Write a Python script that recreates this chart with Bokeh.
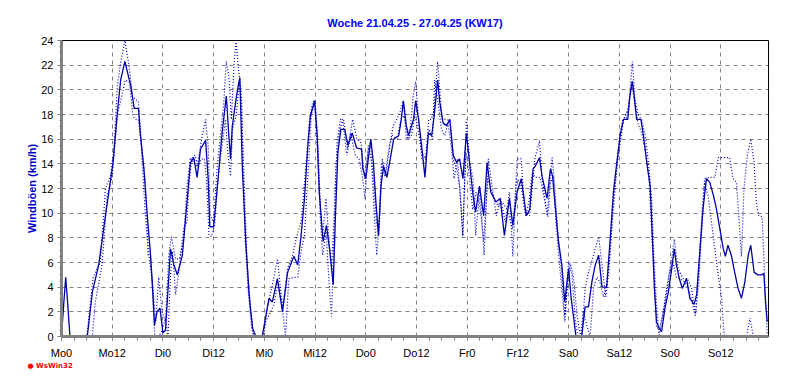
from bokeh.plotting import figure
from bokeh.models import Range1d, FixedTicker, Title
from bokeh.embed import file_html
from bokeh.resources import INLINE

title_text = "Woche 21.04.25 - 27.04.25 (KW17)"
y_label = "Windböen (km/h)"
logo_text = "● WsWin32"
x_tick_pos = [0, 12, 24, 36, 48, 60, 72, 84, 96, 108, 120, 132, 144, 156]
x_tick_labels = ["Mo0", "Mo12", "Di0", "Di12", "Mi0", "Mi12", "Do0", "Do12",
                 "Fr0", "Fr12", "Sa0", "Sa12", "So0", "So12"]
y_ticks = [0, 2, 4, 6, 8, 10, 12, 14, 16, 18, 20, 22, 24]

# solid series (hours since Mo 0:00, km/h)
solid_h = [0, 0.5, 1, 1.5, 2, 6.1, 7.3, 8.8, 10.4, 12.2, 13.2, 14, 15, 16.4, 17.2, 18.2, 18.7, 19.5,
           20.3, 21, 21.5, 22, 22.6, 23.3, 24, 24.6, 25.8, 26.6, 27.4, 28.6, 29.7, 30.5, 31.3, 32.1,
           32.9, 34.1, 34.7, 35.1, 36, 36.9, 38, 39, 39.6, 40, 40.4, 41.2, 41.8, 42.2, 42.8, 43.6,
           44.4, 45.2, 46, 47.5, 49.1, 49.9, 51.1, 52.3, 53.5, 55, 55.9, 56.7, 57.5, 58.3, 58.9,
           59.9, 60.5, 61, 61.9, 62.7, 63.5, 64.3, 64.8, 65.4, 66.1, 67, 67.8, 68.8, 69.8, 71,
           71.3, 72, 72.6, 73.2, 73.8, 74.4, 75, 75.6, 76.2, 77, 77.8, 78.6, 79.8, 80.4, 80.9,
           81.6, 82.1, 83.3, 83.8, 84.5, 85.2, 86, 86.8, 87.6, 88.2, 89, 89.5, 90.3, 91.1, 91.9,
           92.7, 93.5, 94.2, 95, 95.8, 96.8, 97.4, 98, 98.9, 99.9, 100.7, 101.6, 102.8, 103.8,
           104.8, 106, 106.8, 107.8, 108.8, 110, 110.8, 111.6, 112.1, 113.1, 113.7, 114.9, 115.7,
           116.2, 116.9, 117.6, 118.4, 119.1, 119.6, 120, 120.6, 121.2, 121.7, 122.4, 123.1,
           123.9, 124.7, 125.5, 126.3, 127.1, 127.9, 129, 129.8, 130.6, 131.4, 132.2, 133, 134,
           134.5, 135.1, 135.6, 136.1, 137.1, 137.7, 138.5, 139.3, 139.8, 140.3, 140.8, 141.4,
           142, 142.8, 143.6, 144.4, 145, 145.5, 146.2, 146.9, 147.9, 148.7, 149.7, 150.3, 151.1,
           151.8, 152.6, 153.4, 154.3, 155, 155.8, 156.6, 157.1, 157.7, 158.5, 159.3, 160.1,
           160.9, 161.7, 162.5, 163.1, 163.9, 164.8, 165.6, 166.2, 166.6, 167]
solid_v = [0, 2.5, 4.8, 2.5, 0, 0, 3.6, 5.8, 9.8, 14.1, 18.1, 20.8, 22.3, 20.3, 18.5, 18.5, 16.3, 13.6,
           9.8, 6.9, 4.3, 0.9, 2, 2.3, 0.3, 0.5, 7.1, 5.8, 5.0, 6.6, 10.9, 14.1, 14.5, 12.9,
           15.2, 15.9, 12.8, 8.9, 8.9, 12.2, 16.5, 19.5, 16.3, 14.4, 17, 19, 20.3, 21, 13.6, 7.7,
           3.4, 0.7, 0, 0, 3.1, 2.8, 4.7, 2, 5.2, 6.5, 5.8, 8.2, 11.2, 15.5, 17.9,
           19.1, 16.3, 11.7, 7.7, 9.0, 6.9, 4.2, 9.5, 14.9, 16.8, 16.8, 15.5, 16.5, 15.3, 15.2,
           13.6, 12.8, 14.4, 16, 14.1, 10.9, 8.2, 12.2, 13.8, 12.9, 14.4, 16, 16.3, 17.6, 19.1,
           17.1, 16.3, 17.6, 19.1, 17.6, 15.5, 12.9, 16.5, 16.3, 17.9, 20.8, 19, 17.3, 17.1, 17.6,
           14.7, 14.1, 14.4, 12.8, 16.5, 13.3, 11.4, 10.1, 12.2, 9.8, 14.1, 11.7, 10.9, 11.2,
           8.2, 11.2, 9, 11.7, 12.8, 9.8, 10.3, 13.6, 13.8, 14.5, 13, 11.2, 13.6,
           13, 10.3, 7.7, 5.8, 2.8, 4.4, 5.5, 3.1, 1.5, 0.1, 0, 0,
           2.4, 2.4, 4.4, 5.8, 6.6, 4, 4, 7.7, 11.7, 14.1, 16.3, 17.6, 17.6,
           19.5, 20.7, 19.2, 17.6, 17.6, 16.3, 14.1, 12.2, 8.2, 3.9, 1.2, 0.7,
           0.4, 2.3, 3.6, 5.5, 7.1, 5.8, 4.7, 3.9, 4.7, 3.1, 2.6, 3.4, 7.1,
           10.3, 12.8, 12.5, 11.4, 10.3, 8.7, 7.1, 6.5, 7.4, 6.6, 5.2, 3.9,
           3.1, 4.4, 6.6, 7.4, 5.2, 5.0, 5.0, 5.1, 2.8, 1.2]

# dotted series A
dotA_h = [0, 6, 7.5, 8.4, 9.2, 10.4, 11.6, 12.4, 13.2, 14, 15, 16, 16.8, 17.5, 18.2, 18.7, 19.3, 19.9,
          20.7, 21.5, 22.3, 23, 23.8, 24.6, 25.4, 26, 27, 27.9, 28.9, 29.7, 30.5, 31.3, 32.1, 33.3,
          34.1, 34.7, 35.2, 36, 36.8, 37.6, 38.4, 39, 39.6, 40.2, 40.8, 41.3, 41.9, 42.5, 43.1,
          43.9, 44.7, 45.5, 47.8, 48.7, 49.9, 51.1, 52.3, 53.5, 54.7, 55.5, 56.7, 57.9, 58.7,
          59.4, 60, 60.6, 61.3, 61.8, 62.6, 63.2, 63.9, 64.6, 65.2, 66, 66.8, 67.7, 68.9, 69.9,
          70.9, 71.7, 72.5, 73.1, 73.9, 74.5, 75.1, 75.9, 76.7, 77.7, 78.5, 79.3, 80, 80.9, 81.6,
          82.4, 83.2, 83.8, 84.5, 85.3, 86.1, 86.9, 87.5, 88.2, 89, 89.5, 90.1, 91.1, 91.9, 92.7,
          93.5, 94.2, 95, 95.8, 96.6, 97.4, 98, 99, 100, 101, 102.1, 102.9, 103.9, 105, 106,
          106.8, 107.8, 108.8, 109.6, 110.8, 112, 113.1, 113.7, 114.9, 115.7, 116.1, 116.7,
          117.5, 118.3, 119.1, 120, 120.8, 121.6, 122.2, 123.1, 123.9, 124.7, 125.9, 127.1,
          127.9, 128.8, 129.6, 130.4, 131.2, 132, 132.8, 133.6, 134.3, 135.1, 135.7, 136.5,
          137.3, 138.1, 138.9, 139.7, 140.3, 140.8, 141.4, 142, 143, 143.7, 144.4, 145, 145.9,
          147.1, 148.1, 149.1, 150, 150.8, 151.6, 152.2, 153.4, 154.6, 155.4, 158.1, 158.9,
          159.7, 160.2, 160.9, 161.5, 162.3, 163.1, 163.9, 164.4, 165, 165.8, 166.4, 167]
dotA_v = [0, 0, 4.8, 5.5, 6, 12, 13, 15.2, 20.3, 22.2, 24, 21.9, 19.5, 19.2, 19.1, 16.5, 13, 9.5,
          6.5, 4.4, 1.2, 4.8, 2.0, 1.2, 6.6, 8.1, 6.3, 6.3, 7.9, 12.2, 14.5, 14.1, 13.8, 16.3,
          17.6, 15.5, 9.8, 9.3, 13.6, 16.3, 19, 22.3, 21.1, 17.6, 21.9, 24, 21.6, 20, 13.6,
          6, 2.3, 0, 0, 2.3, 4.2, 6.3, 2.3, 5.5, 6.6, 7.9, 9.3, 14.1, 17.6,
          19, 19.2, 16.3, 10.1, 8.2, 11.2, 8.2, 5.5, 10.3, 15.7, 17.6, 17.5, 15.2, 17.6, 16,
          15.7, 12.8, 14.9, 15.7, 12.2, 9.3, 8.2, 14.4, 13, 15.5, 17.1, 17.6, 18.1, 19.1, 16,
          16.3, 19.5, 20.7, 17.6, 14.4, 14.1, 17.6, 17.6, 18.4, 22.3, 20, 17.6, 17.6, 17.5, 14.4,
          13.6, 12.2, 8.2, 17.6, 14.1, 12.8, 8.2, 12, 6.6, 14.4, 11.7, 9.8, 11.2, 9.3, 11.7,
          6.5, 14.4, 14.4, 10.1, 9.8, 14.4, 15.9, 13, 9.8, 13, 14.5, 12.2,
          8.2, 5.5, 1.7, 6, 5, 1.2, 0, 0, 3.9, 5.2, 6.6, 8.1,
          5.8, 3.2, 5.5, 10.3, 13, 16, 17.6, 17.6, 19, 22.3, 19.2, 17.9,
          17.6, 16.3, 14.1, 10.9, 5.5, 2.6, 0, 1.2, 3.1, 4.7, 6.3, 7.9, 5.5,
          4.7, 4.7, 3.9, 1.7, 5.5, 10.3, 12.8, 12.9, 12.9, 14.5, 14.5, 12.8,
          12.5, 10.1, 6.5, 12, 14.7, 16, 14.1, 10.9, 9.8, 9.7, 4.7, 0.1]

# dotted series B
dotB_h = [0, 7.3, 8, 9.6, 10.8, 12, 13.2, 14.3, 15.1, 16.1, 16.9, 17.5, 18.2, 19.1, 19.9, 20.5, 21.1,
          21.5, 22.1, 23, 23.8, 24.6, 25.2, 25.8, 26.3, 27, 27.7, 28.9, 29.7, 30.1, 30.8, 31.6,
          32.2, 33.1, 33.8, 34.3, 34.9, 35.5, 36.2, 37.1, 38, 38.8, 39.4, 40, 40.5, 41.3, 42.1,
          42.6, 43.4, 44.2, 45, 45.5, 47.6, 48.3, 49.1, 50.3, 51.1, 52.1, 53, 53.8, 55, 55.9,
          56.7, 57.5, 58.3, 59.1, 59.9, 60.6, 61.3, 61.8, 62.6, 63.4, 63.9, 64.4, 64.9, 65.7,
          66.5, 67.5, 68.4, 69.5, 70.4, 71.2, 71.8, 72.6, 73.4, 74, 74.6, 75.2, 75.7, 76.5,
          77.6, 78.3, 79.5, 80.3, 81.1, 82.1, 82.8, 83.6, 84.4, 85.2, 86.2, 87, 87.8, 88.3,
          89.1, 89.9, 90.7, 91.5, 92.3, 92.9, 93.7, 94.5, 94.9, 95.7, 96.5, 97.3, 98.1, 98.9,
          99.9, 100.8, 101.6, 102.4, 103.3, 104.3, 105.5, 106.7, 107.7, 108.6, 109.8, 110.6,
          111.4, 112.1, 113.3, 114.1, 115.1, 115.7, 116.4, 117, 117.8, 118.6, 119.1, 119.6,
          120.4, 121.2, 122, 122.8, 123.5, 124.3, 125.1, 125.9, 126.7, 127.4, 128.3, 129,
          129.8, 130.6, 131.4, 132.2, 133, 134.1, 134.9, 135.6, 136.4, 137.3, 138.1, 139,
          139.7, 140.3, 140.8, 141.6, 142.4, 143.2, 144, 144.7, 145.5, 146.3, 147.5, 148.3,
          149.2, 150, 150.8, 151.6, 152.2, 153, 153.8, 154.6, 155.4, 156.2, 156.8, 157.4,
          162.1, 162.9, 163.7, 167]
dotB_v = [0, 0, 2.8, 5.8, 11.4, 13, 17.9, 19.6, 20.8, 20.6, 17.9, 17.6, 17.6, 14.9, 12.2, 6.6, 6.5,
          3.9, 0, 0, 0.5, 1.5, 0, 5, 6.9, 3.4, 5, 8.7, 9.3, 12, 14.4, 14.7,
          13.8, 14.4, 14.4, 12.8, 8.2, 8.1, 9, 13, 15.5, 17.6, 14.7, 13, 16.8, 17.9, 20.6,
          19, 8.2, 3.6, 0.7, 0, 0, 1.2, 1.7, 2.6, 4.2, 2.8, 0, 4.7, 4.8, 4.8,
          6.9, 8.2, 13, 17.9, 19, 14.9, 9.3, 6.6, 8.5, 3.9, 1.6, 7.1, 13.6, 16.5,
          17.6, 14.7, 16.5, 14.7, 14.4, 13, 11.2, 15.5, 14.1, 9.8, 6.6, 9.3, 14.1, 13,
          15.5, 16.3, 16, 17.6, 17.9, 16, 16.3, 17.9, 16.8, 14.9, 14.4, 16.8, 16, 20.8,
          19, 16.8, 16.3, 17.3, 15.2, 12.8, 14.4, 10.9, 8.1, 14.9, 13, 10.3, 11.7, 10.9,
          7.7, 12.8, 12, 11.2, 10.6, 10.9, 10.3, 8.7, 12.8, 12.5, 9.8, 10.9,
          13.3, 12.9, 12.9, 11.4, 9.7, 12.5, 13, 9.3, 6, 3.1, 1.2, 3.6,
          6, 4.7, 1.7, 0, 2, 0.9, 0, 3.9, 4.8, 4.4, 3.2, 4.2,
          6.9, 10.3, 13.6, 15.7, 17.6, 18.4, 20.6, 19, 17.3, 16.5, 15.2, 12.8,
          8.2, 4.4, 0.7, 0.7, 2, 3.9, 5.5, 6, 4.8, 4.7, 4.4, 3.9,
          2.8, 1.7, 4.4, 9.3, 12.5, 11.4, 9.3, 7.1, 5, 3.1, 0.1, 0,
          0, 1.5, 0, 0]

W, H = 776, 372
p = figure(width=W, height=H, output_backend="svg", toolbar_location=None,
           x_range=Range1d(0, 167.3), y_range=Range1d(0, 24),
           min_border_left=61, min_border_right=8, min_border_top=40, min_border_bottom=36)
p.title.text = title_text
p.title.align = "center"
p.title.text_font = "Liberation Sans"
p.title.text_font_size = "11px"
p.title.text_font_style = "bold"
p.title.text_color = "#0000FF"
p.title.offset = 0
p.title.standoff = 24

p.background_fill_color = "white"
p.border_fill_color = "white"
p.outline_line_color = "black"
p.outline_line_width = 1

for ax in (p.xaxis, p.yaxis):
    ax.axis_line_color = "#808080"
    ax.axis_line_width = 3
    ax.major_tick_line_color = "#808080"
    ax.minor_tick_line_color = "#808080"
    ax.major_label_text_font = "Liberation Sans"
    ax.major_label_text_font_size = "11px"
    ax.major_label_text_color = "black"

p.xaxis.ticker = FixedTicker(ticks=x_tick_pos, minor_ticks=[h for h in range(0, 168, 3)])
p.xaxis.major_label_overrides = {t: l for t, l in zip(x_tick_pos, x_tick_labels)}
p.xaxis.major_tick_in = 0
p.xaxis.major_tick_out = 4
p.xaxis.minor_tick_in = 0
p.xaxis.minor_tick_out = 4
p.xaxis.major_label_standoff = 6

p.yaxis.ticker = FixedTicker(ticks=y_ticks, minor_ticks=[i * 0.5 for i in range(49)])
p.yaxis.major_tick_in = 0
p.yaxis.major_tick_out = 4
p.yaxis.minor_tick_in = 0
p.yaxis.minor_tick_out = 2
p.yaxis.major_label_standoff = 4
p.yaxis.axis_label = y_label
p.yaxis.axis_label_text_font = "Liberation Sans"
p.yaxis.axis_label_text_font_size = "11px"
p.yaxis.axis_label_text_font_style = "bold"
p.yaxis.axis_label_text_color = "#0000CC"
p.yaxis.axis_label_standoff = 0

p.xgrid.grid_line_color = "#808080"
p.ygrid.grid_line_color = "#808080"
p.xgrid.grid_line_dash = "4 4"
p.ygrid.grid_line_dash = "4 4"
p.xgrid.grid_line_width = 1
p.ygrid.grid_line_width = 1

p.line(dotA_h, dotA_v, line_color="#0000CC", line_width=1.2, line_dash="1 2")
p.line(dotB_h, dotB_v, line_color="#0000CC", line_width=1.2, line_dash="1 2")
p.line(solid_h, solid_v, line_color="#0000A8", line_width=1.3)

logo = Title(text=logo_text, align="left", offset=-34, standoff=0, vertical_align="top",
             text_font="DejaVu Sans", text_font_size="7px", text_font_style="bold",
             text_color="#FF0000")
p.add_layout(logo, "below")

open("out.html", "w").write(file_html(p, INLINE))
